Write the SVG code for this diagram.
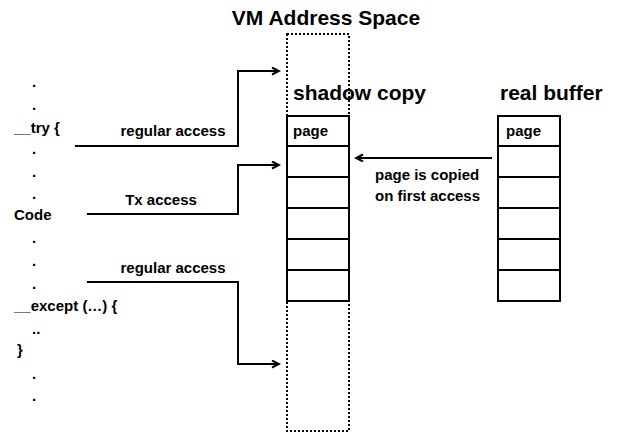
<svg xmlns="http://www.w3.org/2000/svg" width="620" height="434" viewBox="0 0 620 434">
<style>
text{font-family:"Liberation Sans",Arial,sans-serif;font-weight:bold;fill:#000}
.code{font-size:15px}
.lbl{font-size:15px}
.hdr{font-size:21px}
.cell{fill:#fff;stroke:#000;stroke-width:2}
.dot{fill:none;stroke:#000;stroke-width:2;stroke-dasharray:2 2}
.conn{fill:none;stroke:#000;stroke-width:2}
</style>
<defs>
<marker id="ah" markerWidth="10" markerHeight="10" refX="8" refY="4" orient="auto" markerUnits="userSpaceOnUse">
<path d="M1,0.5 L8,4 L1,7.5" fill="none" stroke="#000" stroke-width="2"/>
</marker>
</defs>
<rect width="620" height="434" fill="#fff"/>
<g id="title"><text class="hdr" x="326" y="25" text-anchor="middle">VM Address Space</text></g>
<g id="vm-space"><rect class="dot" x="287" y="34" width="62" height="397"/></g>
<g id="shadow-copy">
<text class="hdr" x="293" y="100">shadow copy</text>
<rect class="cell" x="287" y="116" width="62" height="30"/>
<rect class="cell" x="287" y="146" width="62" height="31"/>
<rect class="cell" x="287" y="177" width="62" height="31"/>
<rect class="cell" x="287" y="208" width="62" height="31"/>
<rect class="cell" x="287" y="239" width="62" height="31"/>
<rect class="cell" x="287" y="270" width="62" height="31"/>
<text class="lbl" x="293" y="136">page</text>
</g>
<g id="real-buffer">
<text class="hdr" x="500" y="100">real buffer</text>
<rect class="cell" x="498" y="116" width="62" height="30"/>
<rect class="cell" x="498" y="146" width="62" height="31"/>
<rect class="cell" x="498" y="177" width="62" height="31"/>
<rect class="cell" x="498" y="208" width="62" height="31"/>
<rect class="cell" x="498" y="239" width="62" height="31"/>
<rect class="cell" x="498" y="270" width="62" height="31"/>
<text class="lbl" x="506" y="136">page</text>
</g>
<g id="code">
<text class="code" x="32" y="87">.</text>
<text class="code" x="32" y="110">.</text>
<text class="code" x="14" y="133">__try {</text>
<text class="code" x="32" y="154">.</text>
<text class="code" x="32" y="177">.</text>
<text class="code" x="32" y="199">.</text>
<text class="code" x="14" y="220">Code</text>
<text class="code" x="32" y="243">.</text>
<text class="code" x="32" y="266">.</text>
<text class="code" x="32" y="289">.</text>
<text class="code" x="14" y="311">__except (…) {</text>
<text class="code" x="32" y="334">..</text>
<text class="code" x="17" y="355">}</text>
<text class="code" x="32" y="379">.</text>
<text class="code" x="32" y="401">.</text>
</g>
<g id="connectors">
<polyline class="conn" points="75,146 238,146 238,71 279,71" marker-end="url(#ah)"/>
<polyline class="conn" points="87,214 238,214 238,165 279,165" marker-end="url(#ah)"/>
<polyline class="conn" points="87,282 238,282 238,364 279,364" marker-end="url(#ah)"/>
<line class="conn" x1="492" y1="158" x2="356" y2="158" marker-end="url(#ah)"/>
<text class="lbl" x="173" y="136" text-anchor="middle">regular access</text>
<text class="lbl" x="161" y="205" text-anchor="middle">Tx access</text>
<text class="lbl" x="173" y="273" text-anchor="middle">regular access</text>
<text class="lbl" x="375" y="180">page is copied</text>
<text class="lbl" x="375" y="201">on first access</text>
</g>
</svg>
